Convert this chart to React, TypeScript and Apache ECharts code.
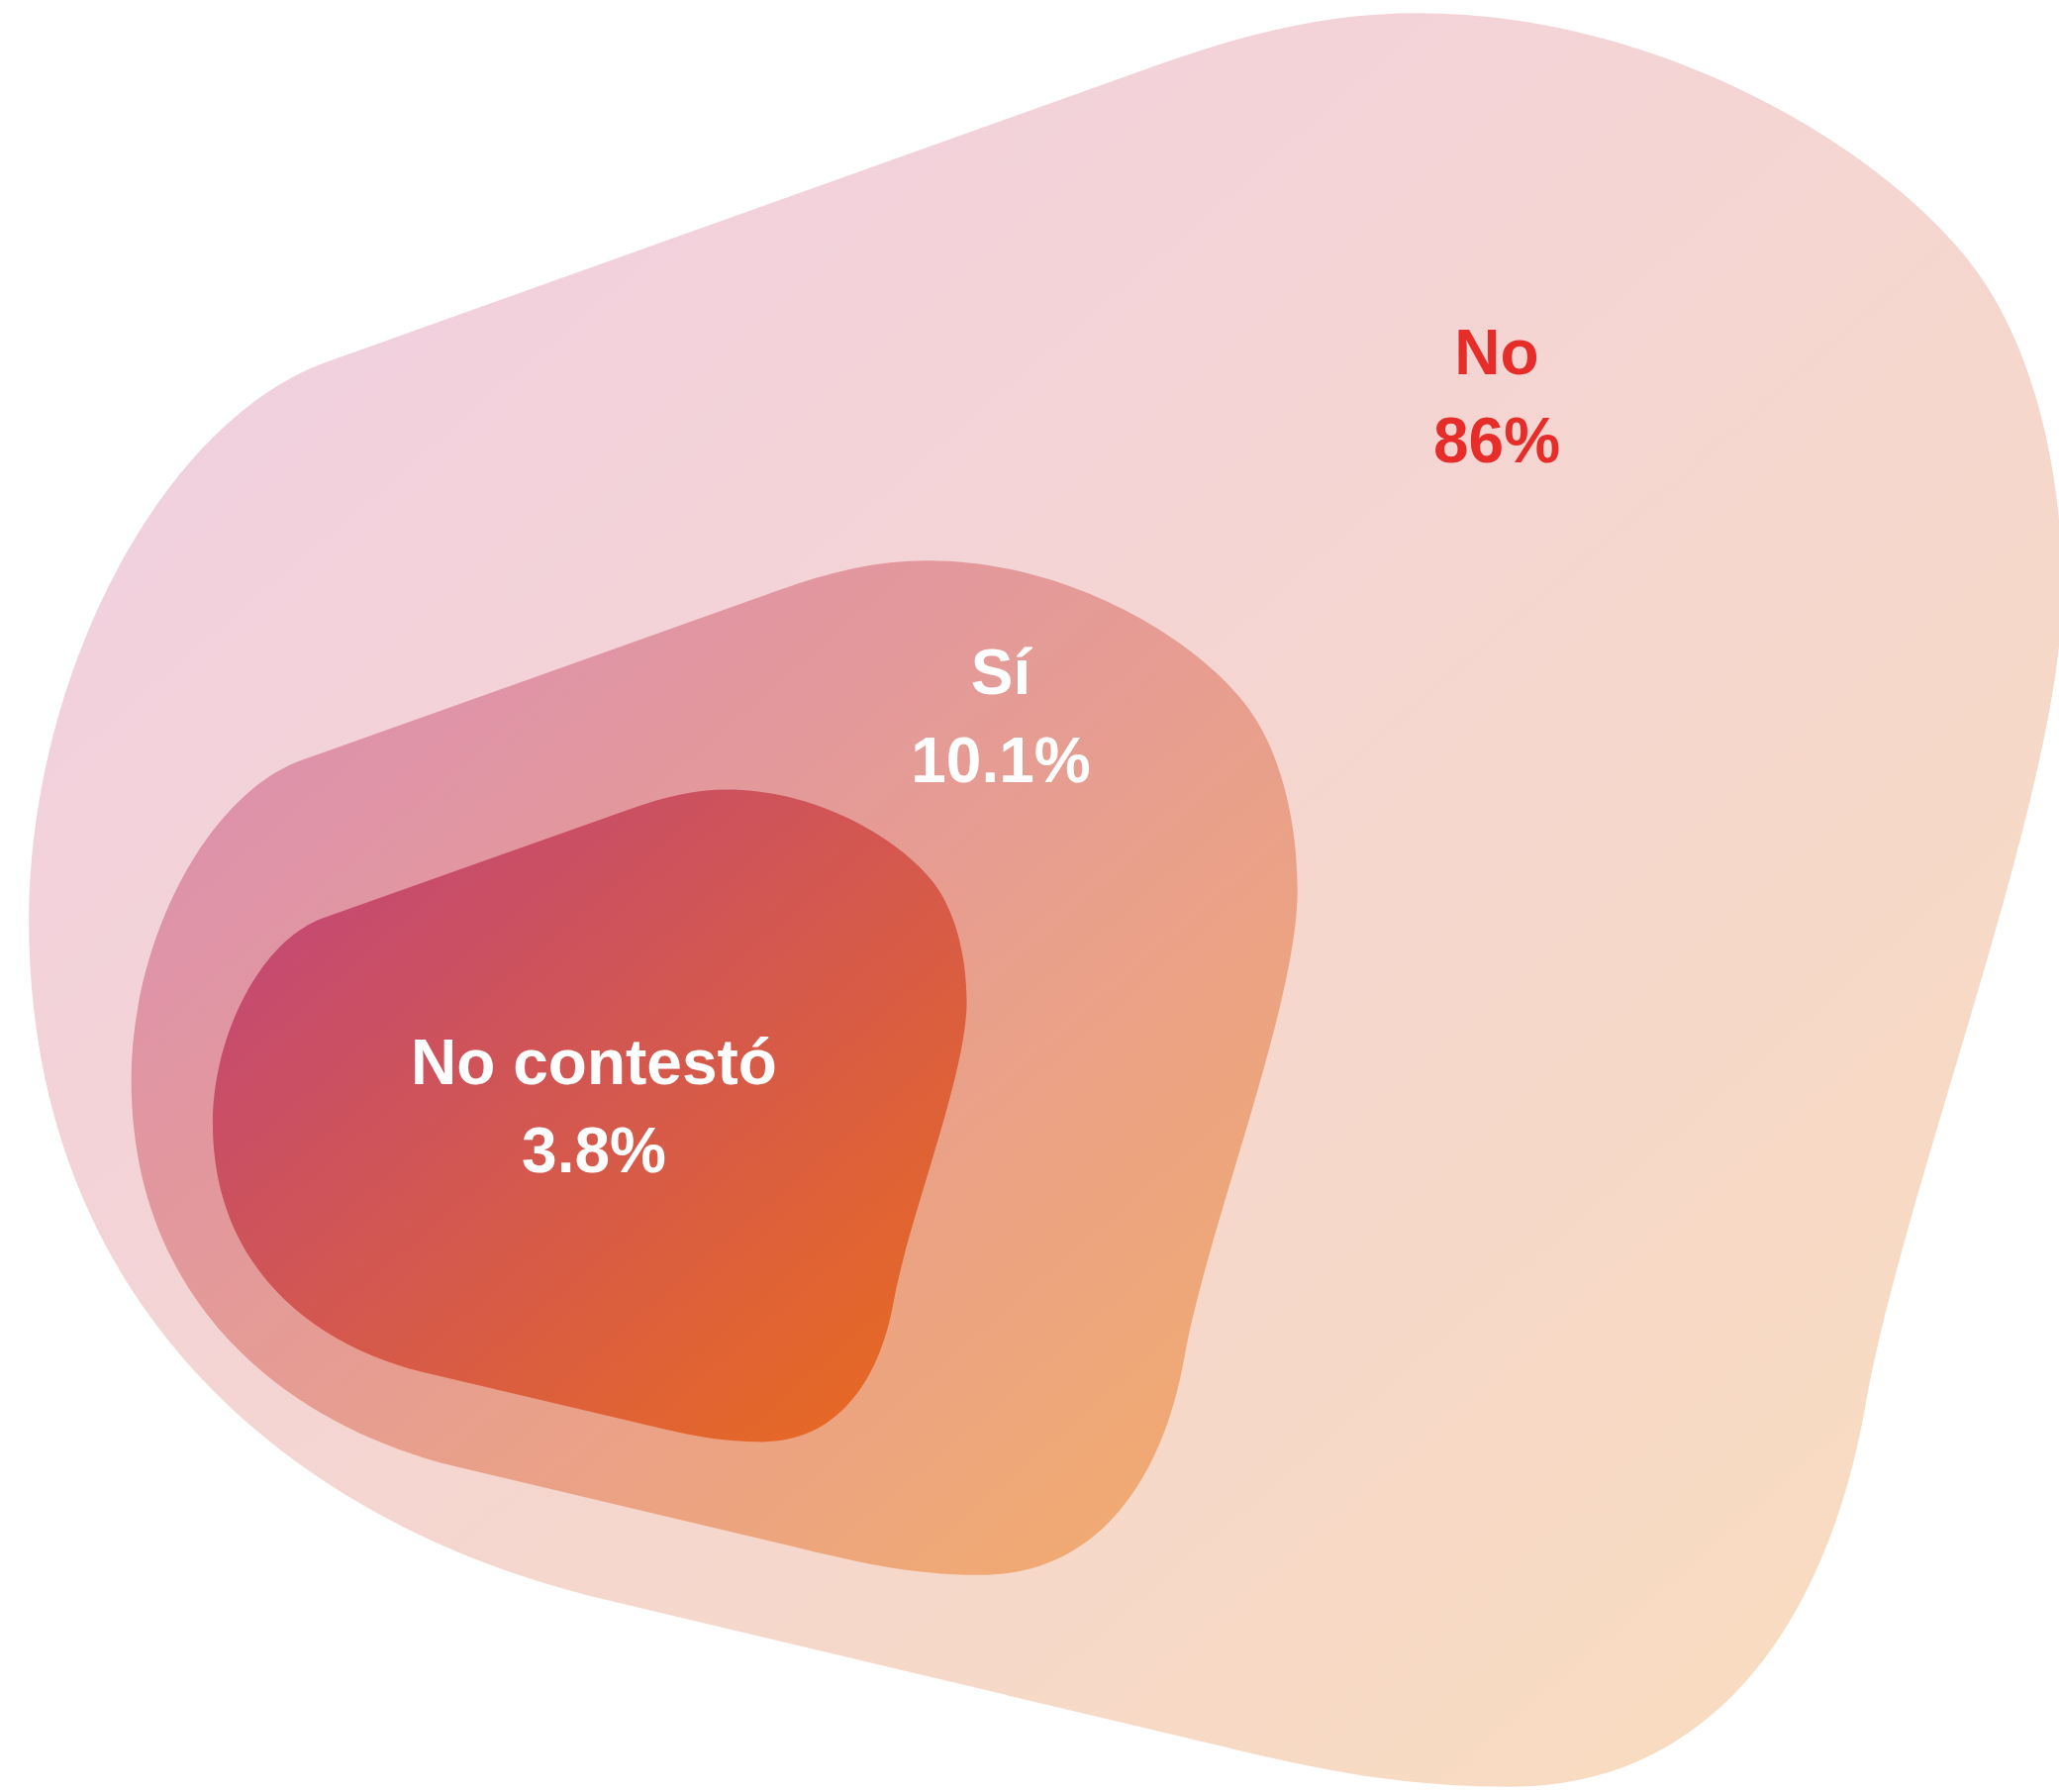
import React, { useEffect, useRef } from "react";
import * as echarts from "echarts";

// ---- data ----
const categories: string[] = ["No", "Sí", "No contestó"];
const values: number[] = [86, 10.1, 3.8];

// ---- layout / style (not data) ----
const BLOB_PATH =
  "M250 275 L880 50 C950 25 1010 10 1080 10 C1260 10 1430 110 1500 200 C1545 258 1570 350 1570 450 " +
  "C1570 600 1450 900 1420 1070 C1390 1240 1300 1360 1150 1360 C1050 1360 980 1341 900 1322 " +
  "L450 1215 C230 1160 22 1000 22 700 C22 520 120 321 250 275 Z";

const blobTransforms = [
  { x: 0, y: 0, sx: 1.3265, sy: 1.3265 },
  { x: 115.9, y: 558.6, sx: 0.7614, sy: 0.7588 },
  { x: 204.1, y: 792.7, sx: 0.4921, sy: 0.4882 },
];
const blobColors = [
  ["#F0CEE5", "#F9DDBC"],
  ["#DA8DB7", "#F3AD6B"],
  ["#BE447F", "#EA6C1C"],
];
const labelPos = [
  [1512, 400],
  [1011, 723],
  [600, 1117],
];
const labelColors = ["#E62D2A", "#FFFFFF", "#FFFFFF"];

export default function App() {
  const ref = useRef<HTMLDivElement>(null);
  useEffect(() => {
    document.body.style.margin = "0";
    if (!ref.current) return;
    const chart = echarts.init(ref.current, null, { renderer: "svg" });
    chart.setOption({
      animation: false,
      backgroundColor: "#FFFFFF",
      series: [
        {
          type: "custom",
          coordinateSystem: "none",
          data: categories.map((c, i) => ({ name: c, value: [i, values[i]] })),
          renderItem: (params: any, api: any) => {
            const i = params.dataIndex;
            const t = blobTransforms[i];
            const v = api.value(1);
            return {
              type: "group",
              children: [
                {
                  type: "path",
                  shape: { pathData: BLOB_PATH },
                  x: t.x,
                  y: t.y,
                  scaleX: t.sx,
                  scaleY: t.sy,
                  style: {
                    fill: new echarts.graphic.LinearGradient(0, 0, 1, 1, [
                      { offset: 0, color: blobColors[i][0] },
                      { offset: 1, color: blobColors[i][1] },
                    ]),
                    stroke: "none",
                  },
                },
                {
                  type: "text",
                  x: labelPos[i][0],
                  y: labelPos[i][1],
                  style: {
                    text: categories[i] + "\n" + String(v) + "%",
                    fill: labelColors[i],
                    font: 'bold 64px "Liberation Sans", Arial, Helvetica, sans-serif',
                    lineHeight: 89,
                    align: "center",
                    verticalAlign: "middle",
                  },
                },
              ],
            };
          },
        },
      ],
    });
    return () => chart.dispose();
  }, []);
  return <div ref={ref} style={{ width: 2080, height: 1810 }} />;
}
